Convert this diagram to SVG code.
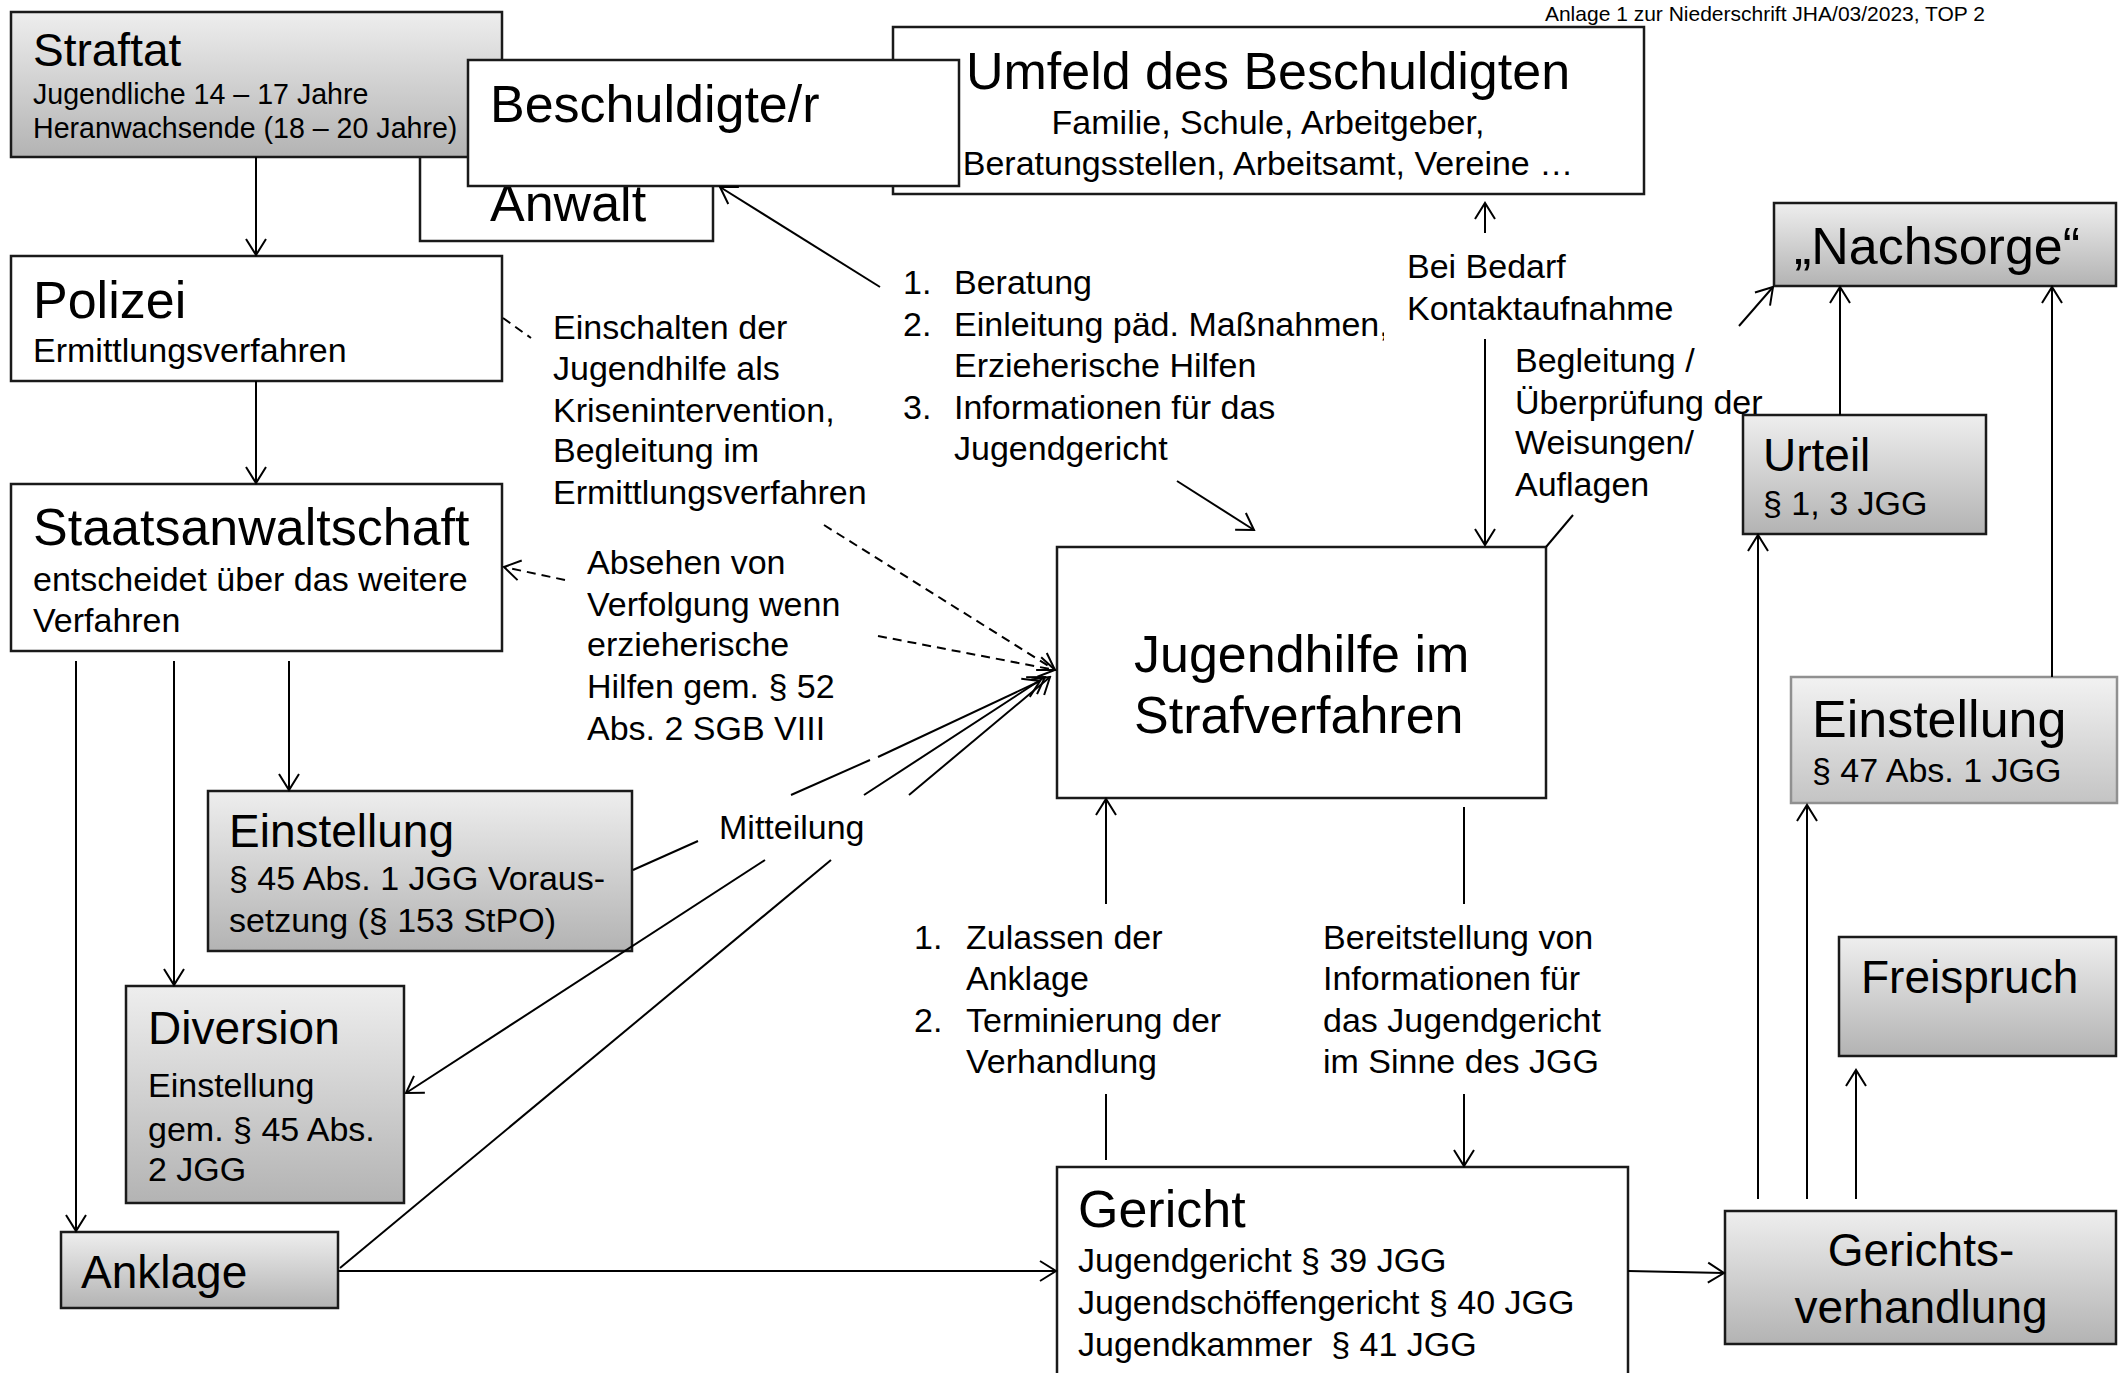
<svg xmlns="http://www.w3.org/2000/svg" width="2127" height="1373" viewBox="0 0 2127 1373">
<defs>
<linearGradient id="g1" x1="0" y1="0" x2="0" y2="1">
<stop offset="0" stop-color="#eeeeee"/>
<stop offset="1" stop-color="#b3b3b3"/>
</linearGradient>
<linearGradient id="g2" x1="0" y1="0" x2="0" y2="1">
<stop offset="0" stop-color="#f2f2f2"/>
<stop offset="1" stop-color="#c4c4c4"/>
</linearGradient>
<marker id="ah" viewBox="-17 -12 19 24" markerWidth="19" markerHeight="24" markerUnits="userSpaceOnUse" refX="0" refY="0" orient="auto">
<path d="M-16,-10 L0,0 L-16,10" fill="none" stroke="#000" stroke-width="2"/>
</marker>
<clipPath id="clipList"><rect x="0" y="0" width="1384" height="1373"/></clipPath>
<style>
text{font-family:"Liberation Sans",Arial,sans-serif;fill:#000}
.box{fill:#fff;stroke:#1a1a1a;stroke-width:2.5}
.gbox{fill:url(#g1);stroke:#1a1a1a;stroke-width:2.5}
.lbox{fill:url(#g2);stroke:#909090;stroke-width:2.5}
.t52{font-size:52px}
.t46{font-size:46px}
.t34{font-size:34px}
.t29{font-size:28.6px}
.hdr{font-size:21px}
.ln{fill:none;stroke:#000;stroke-width:2}
.ar{marker-end:url(#ah)}
.ds{stroke-dasharray:9,6}
</style>
</defs>
<rect width="2127" height="1373" fill="#fff"/>

<text class="hdr" x="1985" y="21" text-anchor="end">Anlage 1 zur Niederschrift JHA/03/2023, TOP 2</text>

<g id="anwalt">
<rect class="box" x="420" y="100" width="293" height="141"/>
<text class="t52" x="490" y="221">Anwalt</text>
</g>
<g id="straftat">
<rect class="gbox" x="11" y="12" width="491" height="145"/>
<text class="t46" x="33" y="66">Straftat</text>
<text class="t29" x="33" y="104">Jugendliche 14 – 17 Jahre</text>
<text class="t29" x="33" y="138">Heranwachsende (18 – 20 Jahre)</text>
</g>
<g id="umfeld">
<rect class="box" x="893" y="27" width="751" height="167"/>
<text class="t52" x="1268" y="89" text-anchor="middle">Umfeld des Beschuldigten</text>
<text class="t34" x="1268" y="134" text-anchor="middle">Familie, Schule, Arbeitgeber,</text>
<text class="t34" x="1268" y="175" text-anchor="middle">Beratungsstellen, Arbeitsamt, Vereine …</text>
</g>
<g id="beschuldigte">
<rect class="box" x="468" y="60" width="491" height="126"/>
<text class="t52" x="490" y="122">Beschuldigte/r</text>
</g>
<g id="nachsorge">
<rect class="gbox" x="1774" y="203" width="342" height="83"/>
<text class="t52" x="1937" y="264" text-anchor="middle">„Nachsorge“</text>
</g>
<g id="polizei">
<rect class="box" x="11" y="256" width="491" height="125"/>
<text class="t52" x="33" y="318">Polizei</text>
<text class="t34" x="33" y="362">Ermittlungsverfahren</text>
</g>
<g id="staatsanwaltschaft">
<rect class="box" x="11" y="484" width="491" height="167"/>
<text class="t52" x="33" y="545">Staatsanwaltschaft</text>
<text class="t34" x="33" y="591">entscheidet über das weitere</text>
<text class="t34" x="33" y="632">Verfahren</text>
</g>
<g id="einstellung45">
<rect class="gbox" x="208" y="791" width="424" height="160"/>
<text class="t46" x="229" y="847">Einstellung</text>
<text class="t34" x="229" y="890">§ 45 Abs. 1 JGG Voraus-</text>
<text class="t34" x="229" y="932">setzung (§ 153 StPO)</text>
</g>
<g id="diversion">
<rect class="gbox" x="126" y="986" width="278" height="217"/>
<text class="t46" x="148" y="1044">Diversion</text>
<text class="t34" x="148" y="1097">Einstellung</text>
<text class="t34" x="148" y="1141">gem. § 45 Abs.</text>
<text class="t34" x="148" y="1181">2 JGG</text>
</g>
<g id="anklage">
<rect class="gbox" x="61" y="1232" width="277" height="76"/>
<text class="t46" x="81" y="1288">Anklage</text>
</g>
<g id="jugendhilfe">
<rect class="box" x="1057" y="547" width="489" height="251"/>
<text class="t52" x="1134" y="672">Jugendhilfe im</text>
<text class="t52" x="1134" y="733">Strafverfahren</text>
</g>
<g id="gericht">
<rect class="box" x="1057" y="1167" width="571" height="220"/>
<text class="t52" x="1078" y="1227">Gericht</text>
<text class="t34" x="1078" y="1272">Jugendgericht § 39 JGG</text>
<text class="t34" x="1078" y="1314">Jugendschöffengericht § 40 JGG</text>
<text class="t34" x="1078" y="1356" xml:space="preserve">Jugendkammer  § 41 JGG</text>
</g>
<g id="gerichtsverhandlung">
<rect class="gbox" x="1725" y="1211" width="391" height="133"/>
<text class="t46" x="1921" y="1266" text-anchor="middle">Gerichts-</text>
<text class="t46" x="1921" y="1323" text-anchor="middle">verhandlung</text>
</g>
<g id="freispruch">
<rect class="gbox" x="1839" y="937" width="277" height="119"/>
<text class="t46" x="1861" y="993">Freispruch</text>
</g>
<g id="einstellung47">
<rect class="lbox" x="1791" y="677" width="326" height="126"/>
<text class="t52" x="1812" y="737">Einstellung</text>
<text class="t34" x="1812" y="782">§ 47 Abs. 1 JGG</text>
</g>
<g id="urteil">
<rect class="gbox" x="1743" y="415" width="243" height="119"/>
<text class="t46" x="1763" y="471">Urteil</text>
<text class="t34" x="1763" y="515">§ 1, 3 JGG</text>
</g>

<g id="labels">
<text class="t34" x="553" y="339">Einschalten der</text>
<text class="t34" x="553" y="380">Jugendhilfe als</text>
<text class="t34" x="553" y="422">Krisenintervention,</text>
<text class="t34" x="553" y="462">Begleitung im</text>
<text class="t34" x="553" y="504">Ermittlungsverfahren</text>

<text class="t34" x="587" y="574">Absehen von</text>
<text class="t34" x="587" y="616">Verfolgung wenn</text>
<text class="t34" x="587" y="656">erzieherische</text>
<text class="t34" x="587" y="698">Hilfen gem. § 52</text>
<text class="t34" x="587" y="740">Abs. 2 SGB VIII</text>

<text class="t34" x="719" y="839">Mitteilung</text>

<g clip-path="url(#clipList)">
<text class="t34" x="903" y="294">1.</text>
<text class="t34" x="954" y="294">Beratung</text>
<text class="t34" x="903" y="336">2.</text>
<text class="t34" x="954" y="336">Einleitung päd. Maßnahmen,</text>
<text class="t34" x="954" y="377">Erzieherische Hilfen</text>
<text class="t34" x="903" y="419">3.</text>
<text class="t34" x="954" y="419">Informationen für das</text>
<text class="t34" x="954" y="460">Jugendgericht</text>
</g>

<text class="t34" x="1407" y="278">Bei Bedarf</text>
<text class="t34" x="1407" y="320">Kontaktaufnahme</text>

<text class="t34" x="1515" y="372">Begleitung /</text>
<text class="t34" x="1515" y="414">Überprüfung der</text>
<text class="t34" x="1515" y="454">Weisungen/</text>
<text class="t34" x="1515" y="496">Auflagen</text>

<text class="t34" x="914" y="949">1.</text>
<text class="t34" x="966" y="949">Zulassen der</text>
<text class="t34" x="966" y="990">Anklage</text>
<text class="t34" x="914" y="1032">2.</text>
<text class="t34" x="966" y="1032">Terminierung der</text>
<text class="t34" x="966" y="1073">Verhandlung</text>

<text class="t34" x="1323" y="949">Bereitstellung von</text>
<text class="t34" x="1323" y="990">Informationen für</text>
<text class="t34" x="1323" y="1032">das Jugendgericht</text>
<text class="t34" x="1323" y="1073">im Sinne des JGG</text>
</g>

<g id="connectors">
<path class="ln ar" d="M256,157 L256,255"/>
<path class="ln ar" d="M256,381 L256,483"/>
<path class="ln ar" d="M76,661 L76,1231"/>
<path class="ln ar" d="M174,661 L174,985"/>
<path class="ln ar" d="M289,661 L289,790"/>
<path class="ln ar" d="M338,1271 L1056,1271"/>
<path class="ln ar" d="M1628,1271 L1724,1273"/>
<path class="ln ar" d="M1758,1199 L1758,535"/>
<path class="ln ar" d="M1807,1199 L1807,805"/>
<path class="ln ar" d="M1856,1199 L1856,1070"/>
<path class="ln ar" d="M1840,415 L1840,287"/>
<path class="ln ar" d="M2052,677 L2052,287"/>
<path class="ln ar" d="M1739,326 L1773,287"/>
<path class="ln" d="M1573,515 L1546,547"/>
<path class="ln ar" d="M1485,233 L1485,203"/>
<path class="ln ar" d="M1485,339 L1485,545"/>
<path class="ln ar" d="M880,287 L720,187"/>
<path class="ln ar" d="M1177,481 L1254,530"/>
<path class="ln ar" d="M1106,904 L1106,799"/>
<path class="ln" d="M1106,1094 L1106,1160"/>
<path class="ln" d="M1464,807 L1464,904"/>
<path class="ln ar" d="M1464,1094 L1464,1166"/>
<path class="ln ds" d="M503,318 L531,338"/>
<path class="ln ds ar" d="M824,525 L1055,670"/>
<path class="ln ds ar" d="M565,580 L504,567"/>
<path class="ln ds ar" d="M878,636 L1055,670"/>
<path class="ln" d="M633,870 L698,841"/>
<path class="ln" d="M791,795 L870,760"/>
<path class="ln ar" d="M878,757 L1040,681"/>
<path class="ln ar" d="M864,795 L1045,677"/>
<path class="ln ar" d="M765,860 L406,1093"/>
<path class="ln ar" d="M909,795 L1050,677"/>
<path class="ln" d="M340,1268 L831,860"/>
</g>
</svg>
